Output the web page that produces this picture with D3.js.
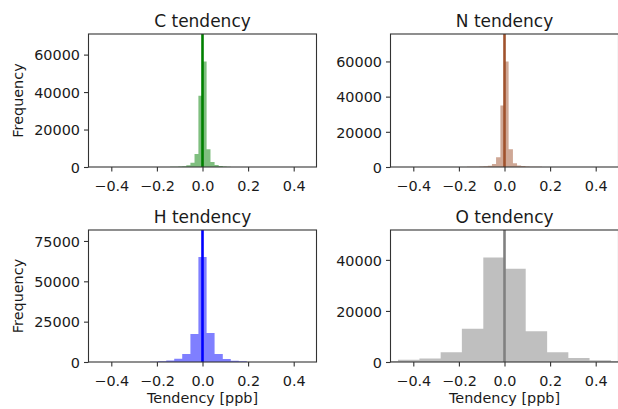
<!DOCTYPE html>
<html>
<head>
<meta charset="utf-8">
<script src="https://cdn.jsdelivr.net/npm/d3@7"></script>
<style>
  body { margin: 0; background: #fff; }
  svg { display: block; }
  text { font-family: "DejaVu Sans", sans-serif; fill: #1a1a1a; }
</style>
</head>
<body>
<svg id="chart" width="618" height="409"></svg>
<script>
// histogram bins: left edge of each bin + counts
const cWidth = 0.0177
const cEdges = [-0.159, -0.142, -0.124, -0.106, -0.089, -0.071, -0.053, -0.035, -0.018, 0, 0.018, 0.035, 0.053, 0.071, 0.089, 0.106, 0.124]
const cCounts = [50, 100, 150, 250, 400, 900, 2300, 7000, 38000, 56300, 9500, 2700, 1100, 500, 250, 120, 60]

const nWidth = 0.0183
const nEdges = [-0.183, -0.165, -0.146, -0.128, -0.110, -0.092, -0.073, -0.055, -0.037, -0.018, 0, 0.018, 0.037, 0.055, 0.073, 0.092, 0.110, 0.128, 0.146]
const nCounts = [60, 100, 150, 200, 300, 400, 700, 1700, 5500, 35000, 60000, 10100, 2100, 800, 500, 300, 200, 120, 80]

const hWidth = 0.0354
const hEdges = [-0.230, -0.195, -0.159, -0.124, -0.089, -0.053, -0.018, 0.018, 0.053, 0.089, 0.124, 0.159]
const hCounts = [150, 400, 1000, 2000, 5000, 17300, 65000, 17900, 5000, 1900, 800, 400]

const oWidth = 0.0933
const oEdges = [-0.560, -0.467, -0.373, -0.280, -0.187, -0.093, 0, 0.093, 0.187, 0.280, 0.373, 0.467]
const oCounts = [300, 900, 1400, 3800, 13000, 40900, 36500, 12000, 3800, 1560, 650, 260]

const xTicks = [-0.4, -0.2, 0, 0.2, 0.4]
const cTicks = [0, 20000, 40000, 60000]
const nTicks = [0, 20000, 40000, 60000]
const hTicks = [0, 25000, 50000, 75000]
const oTicks = [0, 20000, 40000]

const panels = [
  {title: "C tendency", edges: cEdges, counts: cCounts, bw: cWidth, yMax: 71000, yTicks: cTicks,
   fill: "rgba(0,128,0,0.5)", line: "#008000", left: 88.5, top: 34, h: 133, ylab: true, xlab: false},
  {title: "N tendency", edges: nEdges, counts: nCounts, bw: nWidth, yMax: 75600, yTicks: nTicks,
   fill: "rgba(160,82,45,0.5)", line: "#a0522d", left: 390.5, top: 34, h: 133, ylab: false, xlab: false},
  {title: "H tendency", edges: hEdges, counts: hCounts, bw: hWidth, yMax: 81800, yTicks: hTicks,
   fill: "rgba(0,0,255,0.5)", line: "#0000ff", left: 88.5, top: 230, h: 132, ylab: true, xlab: true},
  {title: "O tendency", edges: oEdges, counts: oCounts, bw: oWidth, yMax: 51700, yTicks: oTicks,
   fill: "rgba(128,128,128,0.5)", line: "#808080", left: 390.5, top: 230, h: 132, ylab: false, xlab: true}
]

const W = 228
const svg = d3.select("#chart")
const fmtX = d3.format(".1f")

panels.forEach((p, i) => {
  const x = d3.scaleLinear().domain([-0.5, 0.5]).range([p.left, p.left + W])
  const y = d3.scaleLinear().domain([0, p.yMax]).range([p.top + p.h, p.top])

  // the bars drawn as one stepped area, so neighbouring bins show no seams
  const last = p.edges.length - 1
  const steps = p.edges.map((e, j) => ({x: e, n: p.counts[j]}))
  steps.push({x: p.edges[last] + p.bw, n: p.counts[last]})

  const area = d3.area()
    .curve(d3.curveStepAfter)
    .x(d => x(d.x))
    .y0(y(0))
    .y1(d => y(d.n))

  svg.append("clipPath").attr("id", "clip" + i)
    .append("rect").attr("x", p.left).attr("y", p.top).attr("width", W).attr("height", p.h)

  const g = svg.append("g")

  g.append("path").attr("clip-path", "url(#clip" + i + ")")
    .datum(steps)
    .attr("d", area)
    .attr("fill", p.fill)

  // vertical line at zero
  g.append("line")
    .attr("x1", x(0)).attr("x2", x(0))
    .attr("y1", p.top).attr("y2", p.top + p.h)
    .attr("stroke", p.line).attr("stroke-width", 2.6)

  // frame
  g.append("rect").attr("x", p.left).attr("y", p.top).attr("width", W).attr("height", p.h)
    .attr("fill", "none").attr("stroke", "#333").attr("stroke-width", 1.1)

  const xa = g.append("g").attr("transform", `translate(0,${p.top + p.h})`)
    .call(d3.axisBottom(x).tickValues(xTicks).tickFormat(fmtX).tickSize(4.5).tickSizeOuter(0))
  xa.select(".domain").remove()
  xa.selectAll(".tick line").attr("stroke", "#333").attr("stroke-width", 1.1)
  xa.selectAll(".tick text").attr("y", 24).attr("dy", 0).style("font-size", "14.4px").attr("fill", "#1a1a1a")

  const ya = g.append("g").attr("transform", `translate(${p.left},0)`)
    .call(d3.axisLeft(y).tickValues(p.yTicks).tickFormat(d3.format("d")).tickSize(4.5).tickSizeOuter(0))
  ya.select(".domain").remove()
  ya.selectAll(".tick line").attr("stroke", "#333").attr("stroke-width", 1.1)
  ya.selectAll(".tick text").attr("x", -8.5).attr("dy", "0.36em").style("font-size", "14.4px").attr("fill", "#1a1a1a")

  g.append("text").attr("x", p.left + W / 2).attr("y", p.top - 7)
    .attr("text-anchor", "middle").style("font-size", "17px").text(p.title)

  if (p.ylab) {
    g.append("text").attr("transform", `translate(23,${p.top + p.h / 2}) rotate(-90)`)
      .attr("text-anchor", "middle").style("font-size", "14.4px").text("Frequency")
  }
  if (p.xlab) {
    g.append("text").attr("x", p.left + W / 2).attr("y", 403)
      .attr("text-anchor", "middle").style("font-size", "14.4px").text("Tendency [ppb]")
  }
})
</script>
</body>
</html>
